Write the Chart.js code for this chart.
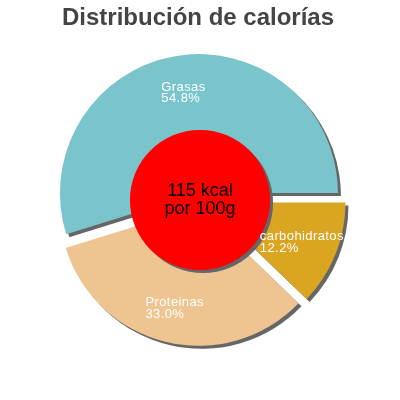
<!DOCTYPE html>
<html>
<head>
<meta charset="utf-8">
<script src="https://cdn.jsdelivr.net/npm/chart.js@4/dist/chart.umd.min.js"></script>
<style>
html,body{margin:0;padding:0;background:#fff;}
#wrap{width:400px;height:400px;position:relative;}
</style>
</head>
<body>
<div id="wrap"><canvas id="c" width="400" height="400"></canvas></div>
<script>
// ---- data ----
const categories = ["Grasas", "Proteinas", "carbohidratos"];
const percents = [54.8, 33.0, 12.2];
const percentLabels = ["54.8%", "33.0%", "12.2%"];
const sliceColors = ["#7AC4CC", "#EEC591", "#DAA520"];
const titleText = "Distribución de calorías";
const centerLines = ["115 kcal", "por 100g"];

// ---- styling constants ----
const FONT = "Arial, 'Liberation Sans', sans-serif";
const EXPLODE = 7;
const SHADOW = "#666666";
const SH = 3;

// pChart draws counter-clockwise from 3 o'clock; Chart.js draws clockwise,
// so feed the slices in reverse order starting at 3 o'clock.
const order = categories.map((_, i) => i).reverse();

const baseDraw = Chart.ArcElement.prototype.draw;
Chart.ArcElement.prototype.draw = function (ctx) {
  const mid = (this.startAngle + this.endAngle) / 2;
  const dpr = window.devicePixelRatio || 1;
  ctx.save();
  ctx.translate(Math.cos(mid) * EXPLODE, Math.sin(mid) * EXPLODE);
  ctx.shadowColor = SHADOW;
  ctx.shadowOffsetX = SH * dpr;
  ctx.shadowOffsetY = SH * dpr;
  ctx.shadowBlur = 0;
  baseDraw.call(this, ctx);
  ctx.restore();
};

const overlay = {
  id: 'overlay',
  afterDatasetsDraw(chart) {
    const ctx = chart.ctx;
    const dpr = window.devicePixelRatio || 1;
    const meta = chart.getDatasetMeta(0);
    const arc0 = meta.data[0];
    const cx = arc0.x, cy = arc0.y, R = arc0.outerRadius;

    // title
    ctx.save();
    ctx.fillStyle = "#444444";
    ctx.font = "bold 24px " + FONT;
    ctx.textAlign = "center";
    ctx.textBaseline = "alphabetic";
    ctx.fillText(titleText, 198, 25);
    ctx.restore();

    // center red disc
    ctx.save();
    ctx.shadowColor = SHADOW;
    ctx.shadowOffsetX = SH * dpr;
    ctx.shadowOffsetY = SH * dpr;
    ctx.shadowBlur = 0;
    ctx.fillStyle = "#FF0000";
    ctx.beginPath();
    ctx.arc(cx, cy, R * 0.504, 0, Math.PI * 2);
    ctx.fill();
    ctx.restore();

    ctx.save();
    ctx.fillStyle = "#000000";
    ctx.font = "18px " + FONT;
    ctx.textAlign = "center";
    ctx.fillText(centerLines[0], cx, cy - 4);
    ctx.fillText(centerLines[1], cx, cy + 13.5);
    ctx.restore();

    // slice labels
    ctx.save();
    ctx.fillStyle = "#FFFFFF";
    ctx.font = "13px " + FONT;
    if ('letterSpacing' in ctx) ctx.letterSpacing = "0.4px";
    ctx.textAlign = "left";
    meta.data.forEach((arc, j) => {
      const i = order[j];
      const mid = (arc.startAngle + arc.endAngle) / 2;
      const lx = cx + Math.cos(mid) * R * 0.79;
      const ly = cy + Math.sin(mid) * R * 0.79;
      const w = Math.max(ctx.measureText(categories[i]).width, ctx.measureText(percentLabels[i]).width);
      const x0 = lx - w / 2;
      ctx.fillText(categories[i], x0, ly - 0.7);
      ctx.fillText(percentLabels[i], x0, ly + 10.7);
    });
    ctx.restore();
  }
};

new Chart(document.getElementById('c'), {
  type: 'pie',
  data: {
    labels: order.map(i => categories[i]),
    datasets: [{
      data: order.map(i => percents[i]),
      backgroundColor: order.map(i => sliceColors[i]),
      borderWidth: 0,
      hoverOffset: 0
    }]
  },
  options: {
    responsive: false,
    animation: false,
    events: [],
    rotation: 90,
    radius: 139,
    layout: { padding: 0 },
    plugins: {
      legend: { display: false },
      title: { display: false },
      tooltip: { enabled: false }
    }
  },
  plugins: [overlay]
});
</script>
</body>
</html>
